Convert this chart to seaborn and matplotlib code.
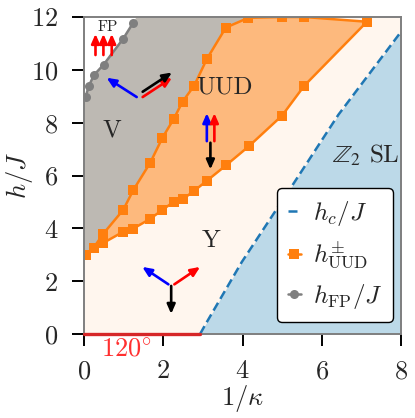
import matplotlib
matplotlib.use('Agg')
import matplotlib.pyplot as plt
import seaborn as sns

# phase boundaries
hc_x = [2.93, 3.06, 3.98, 4.85, 5.16, 6.42, 7.98, 8.0]
hc_y = [0.0, 0.35, 2.72, 4.7, 5.4, 8.3, 11.4, 11.45]

uud_upper_x = [0.04, 0.24, 0.49, 0.99, 1.245, 1.67, 1.98, 2.26, 2.49, 2.78, 3.1, 3.58, 4.15, 4.99, 5.56, 7.14]
uud_upper_y = [3.0, 3.26, 3.8, 4.7, 5.45, 6.48, 7.43, 8.13, 8.8, 9.4, 10.41, 11.6, 11.97, 12.0, 12.0, 11.82]
uud_lower_x = [0.04, 0.24, 0.49, 0.99, 1.245, 1.67, 1.98, 2.26, 2.49, 2.78, 3.1, 3.58, 4.17, 5.0, 5.56, 7.14]
uud_lower_y = [3.0, 3.26, 3.45, 3.87, 3.99, 4.36, 4.7, 5.0, 5.1, 5.42, 5.8, 6.38, 7.12, 8.27, 9.4, 11.82]

fp_x = [0.04, 0.12, 0.25, 0.497, 0.99, 1.245]
fp_y = [8.97, 9.38, 9.8, 10.2, 11.18, 11.79]

line_120_x = [0, 2.93]
line_120_y = [0, 0]

x_ticks = [0, 2, 4, 6, 8]
y_ticks = [0, 2, 4, 6, 8, 10, 12]

# spin arrows: (x0, y0, x1, y1, colour)
arrows = [
    (1.33, 8.97, 0.57, 9.7, 'blue'),
    (1.48, 8.97, 2.22, 9.7, 'red'),
    (1.48, 9.17, 2.22, 9.9, 'black'),
    (0.29, 10.56, 0.29, 11.36, 'red'),
    (0.49, 10.56, 0.49, 11.36, 'red'),
    (0.70, 10.56, 0.70, 11.36, 'red'),
    (3.1, 7.3, 3.1, 8.36, 'blue'),
    (3.29, 7.3, 3.29, 8.36, 'red'),
    (3.19, 7.24, 3.19, 6.23, 'black'),
    (2.13, 1.88, 1.47, 2.54, 'blue'),
    (2.28, 1.88, 2.93, 2.54, 'red'),
    (2.2, 1.82, 2.2, 0.76, 'black'),
]

sns.set_style('ticks')
plt.rcParams['font.family'] = ['cmr10']
plt.rcParams['mathtext.fontset'] = 'cm'
plt.rcParams['axes.formatter.use_mathtext'] = True
plt.rcParams['axes.unicode_minus'] = False

fig = plt.figure(figsize=(4.15, 4.18), dpi=100)
ax = fig.add_axes([84 / 415, 84 / 418, 317 / 415, 317 / 418])

orange = '#ff7f0e'
gray = '#7f7f7f'
blue = '#1f77b4'

# regions
ax.set_facecolor('#fff6ee')
ax.fill_between(hc_x, 0, hc_y, color='#bcd9e8', lw=0, zorder=1)
ax.fill([0] + uud_upper_x[:13] + [1.32] + fp_x[::-1] + [0],
        [3.0] + uud_upper_y[:13] + [12] + fp_y[::-1] + [8.9],
        color='#bdb9b3', lw=0, zorder=1)
ax.fill([1.32] + fp_x[::-1] + [0, 0], [12] + fp_y[::-1] + [8.9, 12], color='white', lw=0, zorder=1)
ax.fill(uud_upper_x + uud_lower_x[::-1], uud_upper_y + uud_lower_y[::-1],
        color='#fdb97d', lw=0, zorder=2)

# boundaries
sns.lineplot(x=hc_x, y=hc_y, color=blue, lw=1.8, ls=(0, (3.6, 1.8)), sort=False, estimator=None,
             label=r'$h_c/J$', ax=ax, zorder=3)
sns.lineplot(x=uud_upper_x, y=uud_upper_y, color=orange, lw=1.8, marker='s', ms=6.5, mew=0, sort=False,
             estimator=None, label=r'$h_{\mathrm{UUD}}^{\pm}$', ax=ax, zorder=4)
sns.lineplot(x=uud_lower_x, y=uud_lower_y, color=orange, lw=1.8, marker='s', ms=6.5, mew=0, sort=False,
             estimator=None, ax=ax, zorder=4)
sns.lineplot(x=fp_x, y=fp_y, color=gray, lw=1.8, marker='o', ms=6.5, mew=0, sort=False,
             estimator=None, label=r'$h_{\mathrm{FP}}/J$', ax=ax, zorder=4)
sns.lineplot(x=line_120_x, y=line_120_y, color='#d62728', lw=2.4, sort=False, estimator=None, ax=ax,
             zorder=9, clip_on=False, legend=False)

for x0, y0, x1, y1, c in arrows:
    ax.annotate('', xy=(x1, y1), xytext=(x0, y0), zorder=6,
                arrowprops=dict(arrowstyle='-|>,head_length=0.5,head_width=0.22', color=c, lw=1.9,
                                shrinkA=0, shrinkB=0, mutation_scale=11))

ax.text(0.7, 7.72, 'V', fontsize=18, ha='center', va='center', zorder=7)
ax.text(3.55, 9.35, 'UUD', fontsize=18, ha='center', va='center', zorder=7)
ax.text(3.2, 3.54, 'Y', fontsize=18, ha='center', va='center', zorder=7)
ax.text(0.6, 11.6, 'FP', fontsize=11, ha='center', va='center', zorder=7)
ax.text(7.1, 6.75, r'$\mathbb{Z}_2$ SL', fontsize=18, ha='center', va='center', math_fontfamily='stix', zorder=7)
ax.text(1.06, -0.58, r'$120^{\circ}$', fontsize=19, color='#ff3030', ha='center', va='center', zorder=7)

ax.set_xlim(0, 8)
ax.set_ylim(0, 12)
ax.set_xticks(x_ticks)
ax.set_yticks(y_ticks)
ax.tick_params(length=8.5, width=1.4, color='black', labelsize=19)
ax.tick_params(axis='x', pad=10)
ax.tick_params(axis='y', pad=10)
ax.set_xlabel(r'$1/\kappa$', fontsize=19, labelpad=0)
ax.set_ylabel(r'$h/J$', fontsize=19, labelpad=-3)
for s in ax.spines.values():
    s.set_color(gray)
    s.set_linewidth(1.4)
    s.set_visible(True)
    s.set_zorder(8)

leg = ax.legend(loc='lower left', bbox_to_anchor=(192.7 / 317, 12 / 317), borderaxespad=0, fontsize=18,
                frameon=True, fancybox=True, framealpha=1, edgecolor='black', facecolor='white',
                handlelength=0.52, handletextpad=0.48, labelspacing=0.45, borderpad=0.44)
leg.set_zorder(9)
leg.get_frame().set_linewidth(1.0)

fig.savefig('out.png', dpi=100)
